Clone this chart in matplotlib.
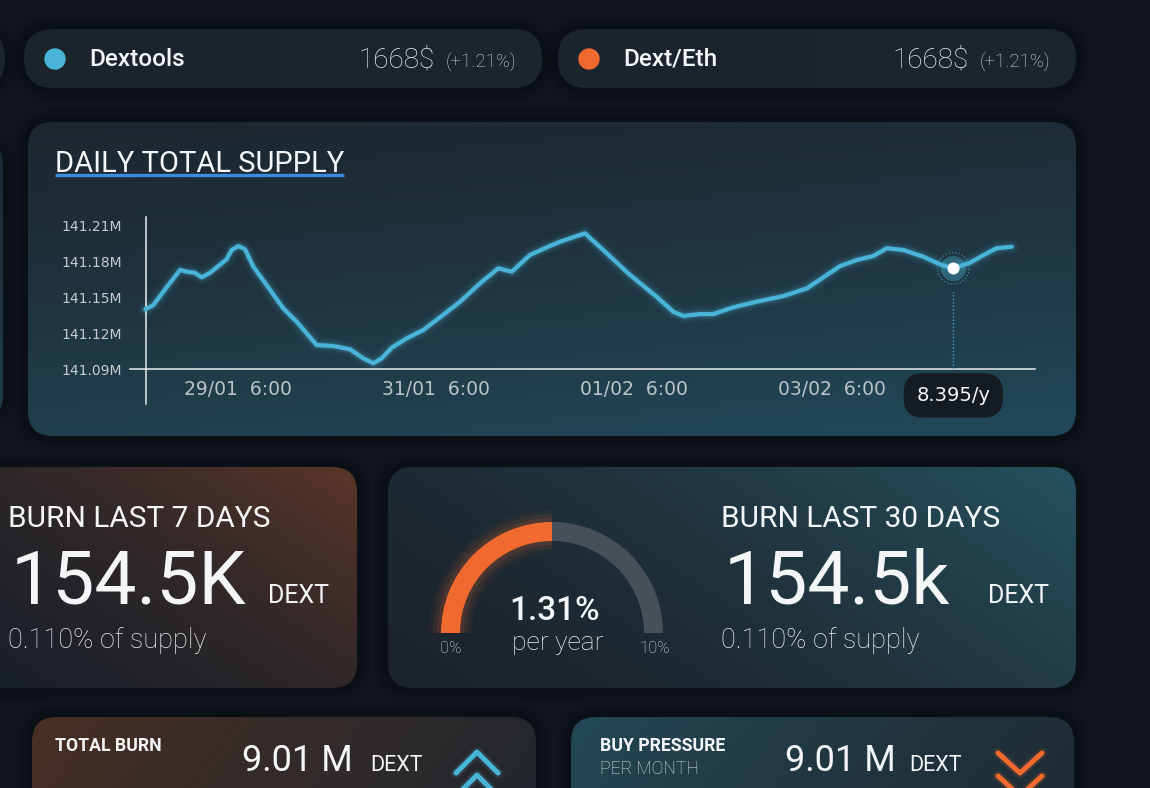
import numpy as np
import matplotlib
matplotlib.use("Agg")
import matplotlib.pyplot as plt
from matplotlib.patches import FancyBboxPatch, Wedge, Circle
from matplotlib.colors import to_rgb

plt.rcParams['font.family'] = ['Roboto', 'DejaVu Sans']

# ---- data ----
time_pos = [0.535, 0.575, 0.642, 0.710, 0.743, 0.785, 0.819, 0.861, 0.945, 0.971,
            1.004, 1.038, 1.080, 1.147, 1.231, 1.299, 1.400, 1.484, 1.568, 1.635,
            1.686, 1.728, 1.779, 1.855, 1.938, 2.023, 2.124, 2.225, 2.317, 2.385,
            2.477, 2.577, 2.629, 2.755, 2.865, 2.977, 3.117, 3.201, 3.252, 3.336,
            3.403, 3.504, 3.622, 3.757, 3.875, 3.959, 4.043, 4.127, 4.211, 4.279,
            4.363, 4.464, 4.548, 4.615, 4.699, 4.784, 4.834, 4.910]
supply_m = [141.1398, 141.1433, 141.1581, 141.1725, 141.1711, 141.1702, 141.1664, 141.1702,
            141.1814, 141.1892, 141.1925, 141.1898, 141.1753, 141.1600, 141.1406, 141.1294,
            141.1100, 141.1092, 141.1064, 141.0989, 141.0948, 141.0989, 141.1077, 141.1156,
            141.1225, 141.1331, 141.1461, 141.1614, 141.1739, 141.1711, 141.1850, 141.1925,
            141.1961, 141.2031, 141.1864, 141.1692, 141.1502, 141.1377, 141.1342, 141.1358,
            141.1358, 141.1414, 141.1461, 141.1508, 141.1572, 141.1664, 141.1758, 141.1808,
            141.1842, 141.1906, 141.1892, 141.1836, 141.1772, 141.1739, 141.1786, 141.1864,
            141.1906, 141.1919]
highlight_idx = 53
highlight_label = "8.395/y"
x_ticks = [1, 2, 3, 4]
x_tick_labels = ["29/01  6:00", "31/01  6:00", "01/02  6:00", "03/02  6:00"]
y_ticks = [141.09, 141.12, 141.15, 141.18, 141.21]

ticker_names = ["Dextools", "Dext/Eth"]
ticker_prices = ["1668$", "1668$"]
ticker_changes = ["(+1.21%)", "(+1.21%)"]

burn_titles = ["BURN LAST 7 DAYS", "BURN LAST 30 DAYS"]
burn_values = ["154.5K", "154.5k"]
burn_shares = ["0.110% of supply", "0.110% of supply"]

gauge_value = "1.31%"
gauge_fill = 0.5          # share of the arc drawn orange in the picture
gauge_range = ["0%", "10%"]

bottom_titles = [("TOTAL BURN", ""), ("BUY PRESSURE", "PER MONTH")]
bottom_values = ["9.01 M", "9.01 M"]

BLUE = "#4ab4d8"
ORANGE = "#f06a30"
WHITE = "#f3f5f6"


def card(ax, x0, y0, x1, y1, r, c0, c1, angle, gamma=1.0, z=2, shadow=True):
    if shadow:
        for k, a in [(14, 0.10), (9, 0.14), (5, 0.18)]:
            ax.add_patch(FancyBboxPatch((x0 - k, y0 - k), x1 - x0 + 2 * k, y1 - y0 + 2 * k,
                                        boxstyle=f"round,pad=0,rounding_size={r + k}",
                                        fc="#06090c", ec="none", alpha=a, zorder=z - 1))
    patch = FancyBboxPatch((x0, y0), x1 - x0, y1 - y0,
                           boxstyle=f"round,pad=0,rounding_size={r}",
                           fc="none", ec="none", zorder=z)
    ax.add_patch(patch)
    xx, yy = np.meshgrid(np.linspace(0, 1, 200), np.linspace(0, 1, 120))
    a = np.deg2rad(angle)
    s = xx * np.cos(a) + yy * np.sin(a)
    s = ((s - s.min()) / (s.max() - s.min())) ** gamma
    ca, cb = np.array(to_rgb(c0)), np.array(to_rgb(c1))
    img = ca + (cb - ca) * s[..., None]
    im = ax.imshow(img, extent=(x0, x1, y1, y0), origin="upper", aspect="auto",
                   interpolation="bilinear", zorder=z)
    im.set_clip_path(patch)


fig = plt.figure(figsize=(11.5, 7.88), dpi=100, facecolor="#10161c")
bg = fig.add_axes([0, 0, 1, 1])
bg.set_facecolor("#10161c")

# ---- ticker pills ----
card(bg, -300, 29, 5, 88, 29, "#1b242c", "#1b242c", 0)
pill_x = [24, 558]
dot_colors = [BLUE, ORANGE]
for i, px in enumerate(pill_x):
    card(bg, px, 29, px + 518, 88, 29, "#1b242c", "#1c262e", 0)
    bg.add_patch(Circle((px + 31, 59), 10, color=dot_colors[i], zorder=5))
    bg.text(px + 65, 59, ticker_names[i], color=WHITE, fontsize=17.5, fontweight="medium",
            va="center", zorder=6)
    bg.text(px + 334, 60, ticker_prices[i], color="#e8ebed", fontsize=20, fontweight="light",
            va="center", zorder=6)
    bg.text(px + 422, 62, ticker_changes[i], color="#d6dadd", fontsize=13.5, fontweight="light",
            va="center", zorder=6)

# ---- chart card ----
card(bg, -400, 140, 3, 420, 25, "#1c2730", "#1f3a48", 80)
card(bg, 28, 122, 1076, 436, 25, "#1d2730", "#22495a", 72, gamma=1.2)
title = bg.text(55, 172, "DAILY TOTAL SUPPLY", color=WHITE, fontsize=21, va="baseline", zorder=6)

# ---- burn cards ----
card(bg, -40, 467, 357, 688, 25, "#1b2129", "#5c3628", -40, gamma=1.8)
card(bg, 388, 467, 1076, 688, 25, "#1c232b", "#26515f", -25, gamma=1.6)
for i, tx in enumerate([8, 721]):
    bg.text(tx, 527, burn_titles[i], color=WHITE, fontsize=21.5, va="baseline", zorder=6)
    bg.text(tx + 3, 603, burn_values[i], color=WHITE, fontsize=54, va="baseline", zorder=6)
    bg.text([268, 988][i], 603, "DEXT", color=WHITE, fontsize=18, va="baseline", zorder=6)
    bg.text(tx, 648, burn_shares[i], color="#eceff1", fontsize=19.5, fontweight="light",
            va="baseline", zorder=6)

# ---- gauge ----
gc, r_out, w = (552, 633), 111, 19
split = 180 + 180 * gauge_fill
for k, a in [(12, 0.05), (8, 0.08), (4, 0.12)]:
    bg.add_patch(Wedge(gc, r_out + k, 180, split, width=w + 2 * k, color=ORANGE, alpha=a, zorder=4,
                       lw=0))
bg.add_patch(Wedge(gc, r_out, split, 360, width=w, color="#475058", zorder=5, lw=0))
bg.add_patch(Wedge(gc, r_out, 180, split, width=w, color=ORANGE, zorder=5, lw=0))
bg.text(555, 620, gauge_value, color=WHITE, fontsize=24, fontweight="medium", ha="center",
        va="baseline", zorder=6)
bg.text(558, 650, "per year", color="#eceff1", fontsize=19, fontweight="light", ha="center",
        va="baseline", zorder=6)
bg.text(451, 653, gauge_range[0], color="#dde1e4", fontsize=12, fontweight="light", ha="center",
        va="baseline", zorder=6)
bg.text(655, 653, gauge_range[1], color="#dde1e4", fontsize=12, fontweight="light", ha="center",
        va="baseline", zorder=6)

# ---- bottom cards ----
card(bg, 32, 717, 536, 900, 25, "#4b2f23", "#1e272f", 15, gamma=0.8)
card(bg, 571, 717, 1074, 900, 25, "#244957", "#1e2830", 15, gamma=0.8)
for i, (tx, vx, ux) in enumerate([(55, 242, 370), (600, 785, 909)]):
    t1, t2 = bottom_titles[i]
    bg.text(tx, 751, t1, color=WHITE, fontsize=12.7, fontweight="bold", va="baseline", zorder=6)
    if t2:
        bg.text(tx, 774, t2, color="#dfe3e6", fontsize=12.7, fontweight="light", va="baseline",
                zorder=6)
    bg.text(vx, 771, bottom_values[i], color=WHITE, fontsize=26, va="baseline", zorder=6)
    bg.text(ux, 771, "DEXT", color=WHITE, fontsize=15.5, va="baseline", zorder=6)

for dy in [0, 23]:
    for lw, a in [(7, 0.15), (3.6, 1)]:
        bg.plot([456, 477, 498], [773 + dy, 752 + dy, 773 + dy], color=BLUE, lw=lw, alpha=a,
                solid_capstyle="round", solid_joinstyle="round", zorder=6)
        bg.plot([998, 1020, 1042], [753 + dy, 773 + dy, 753 + dy], color=ORANGE, lw=lw, alpha=a,
                solid_capstyle="round", solid_joinstyle="round", zorder=6)

bg.set_xlim(0, 1150)
bg.set_ylim(788, 0)
bg.axis("off")

# ---- line chart ----
ax = fig.add_axes([146 / 1150, (788 - 369) / 788, 889 / 1150, 152 / 788])
ax.set_facecolor("none")
x_lo, x_hi = 0.5379, 5.0278
y_lo, y_hi = 141.09, 141.2167
ax.set_xlim(x_lo, x_hi)
ax.set_ylim(y_lo, y_hi)
for s in ax.spines.values():
    s.set_visible(False)

ax.plot([0.4566, x_hi], [y_lo, y_lo], color="#e8ecee", lw=1.1, clip_on=False, zorder=3)
ax.plot([x_lo, x_lo], [141.0608, y_hi], color="#e8ecee", lw=1.1, clip_on=False, zorder=3)

for lw, a in [(11, 0.05), (7.5, 0.09), (5, 0.16)]:
    ax.plot(time_pos, supply_m, color=BLUE, lw=lw, alpha=a, solid_capstyle="round",
            solid_joinstyle="round", clip_on=False)
ax.plot(time_pos, supply_m, color=BLUE, lw=3, solid_capstyle="round", solid_joinstyle="round",
        clip_on=False, zorder=4)

hx, hy = time_pos[highlight_idx], supply_m[highlight_idx]
ax.plot([hx, hx], [y_lo, 141.1542], color="#3fa6cc", lw=1, ls=(0, (1, 1.5)), zorder=3)
ax.scatter([hx], [hy], s=520, facecolor="none", edgecolor=BLUE, linewidths=0.8,
           linestyle=(0, (1, 2)), alpha=0.8, zorder=5)
ax.scatter([hx], [hy], s=330, color=BLUE, alpha=0.35, lw=0, zorder=5)
ax.scatter([hx], [hy], s=75, color="white", lw=0, zorder=6)
ax.annotate(highlight_label, xy=(hx, y_lo), xytext=(0, -19), textcoords="offset points",
            ha="center", va="center", color=WHITE, fontsize=14, family=["DejaVu Sans"],
            bbox=dict(boxstyle="round,pad=0.65,rounding_size=1.0", fc="#141c22", ec="none"),
            zorder=7)

ax.set_xticks(x_ticks)
ax.set_xticklabels(x_tick_labels, family=["DejaVu Sans"])
ax.set_yticks(y_ticks)
ax.set_yticklabels([f"{v:.2f}M" for v in y_ticks], family=["DejaVu Sans"])
ax.tick_params(axis="x", length=0, pad=8, labelsize=13.5, labelcolor="#bcc3c8")
ax.tick_params(axis="y", length=0, pad=17, labelsize=10, labelcolor="#c4cacf")

# underline under the title, sized from the drawn text
fig.canvas.draw()
bb = title.get_window_extent().transformed(bg.transData.inverted())
bg.plot([bb.x0, bb.x1], [174.5, 174.5], color="#3a8be0", lw=2.4, solid_capstyle="butt", zorder=6)
bg.set_xlim(0, 1150)
bg.set_ylim(788, 0)

fig.savefig("out.png", dpi=100, facecolor=fig.get_facecolor())
